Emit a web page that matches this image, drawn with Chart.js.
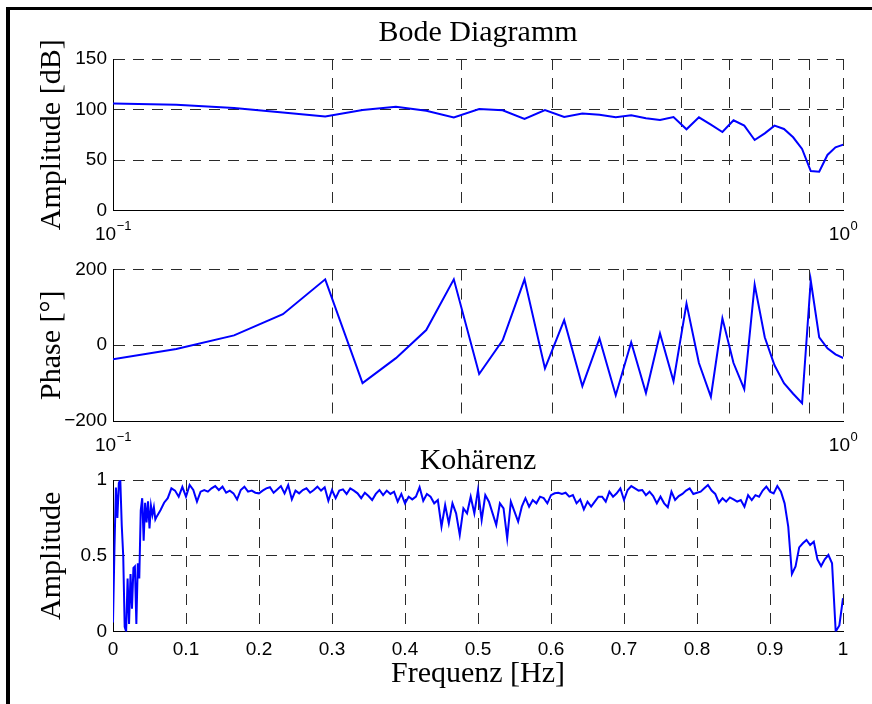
<!DOCTYPE html>
<html lang="de">
<head>
<meta charset="utf-8">
<title>Bode Diagramm / Kohärenz</title>
<script src="https://cdn.jsdelivr.net/npm/chart.js@4.4.1/dist/chart.umd.min.js"></script>
<style>
  html, body { margin: 0; padding: 0; background: #fff; }
  #page { position: relative; width: 872px; height: 704px; overflow: hidden; background: #fff; }
  /* schwarzer Rahmen oben/links wie im Original */
  #frame { position: absolute; left: 6px; top: 7px; width: 900px; height: 800px;
           border-left: 4px solid #000; border-top: 3px solid #000; }
  canvas { position: absolute; left: 0; }
</style>
</head>
<body>
<div id="page">
  <div id="frame"></div>
  <canvas id="ampChart" width="872" height="250" style="top:0px"></canvas>
  <canvas id="phaseChart" width="872" height="220" style="top:240px"></canvas>
  <canvas id="cohChart" width="872" height="264" style="top:440px"></canvas>
</div>
<script>
// ---- Daten ----

// Frequenzstützstellen der Bode-Messung [Hz]
const bodeFreq = [0.0977, 0.1221, 0.1465, 0.1709, 0.1953, 0.2197, 0.2441, 0.2686, 0.2930, 0.3174,
                  0.3418, 0.3662, 0.3906, 0.4150, 0.4395, 0.4639, 0.4883, 0.5127, 0.5371, 0.5615,
                  0.5859, 0.6104, 0.6348, 0.6592, 0.6836, 0.7080, 0.7324, 0.7568, 0.7813, 0.8057,
                  0.8301, 0.8545, 0.8789, 0.9033, 0.9277, 0.9521, 0.9766, 1.0010];

// Amplitude [dB]
const bodeAmpDb = [106, 104.8, 101.5, 97, 93, 99.5, 102.8, 98.8, 92.2, 100.5,
                   99.2, 90.6, 99.5, 92.6, 96, 94.9, 92.3, 94.3, 91.3, 89.6,
                   92.6, 80.4, 92.3, 85, 77.7, 89.3, 84, 69.8, 76.4, 84,
                   80.7, 72.5, 60.9, 39.1, 38.4, 55, 62.6, 65.2];

// Phase [°]
const bodePhaseDeg = [-40, -10, 26, 82, 174, -100, -34, 40, 174, -76,
                      13, 174, -61, 66, -108, 18, -132, 8, -126, 31,
                      -95, 110, -47, -136, 71, -47, -116, 160, 21, -53,
                      -100, -128, -153, 171, 21, -8, -24, -34];

// Kohärenz: 0 ... 0.058 Hz in 0.002-Schritten
const cohLowStart = 0;
const cohLowStep = 0.002;
const cohLow = [0.06, 0.55, 0.95, 0.75, 0.98, 1.0, 0.7, 0.5, 0.03, 0.0,
                0.35, 0.05, 0.38, 0.15, 0.42, 0.43, 0.05, 0.45, 0.35, 0.8,
                0.88, 0.6, 0.85, 0.72, 0.86, 0.68, 0.83, 0.77, 0.82, 0.74];

// Kohärenz: 0.06 ... 1.0 Hz in 0.005-Schritten
const cohMainStart = 0.06;
const cohMainStep = 0.005;
const cohMain = [
  0.76, 0.80, 0.85, 0.88, 0.945, 0.93, 0.89, 0.955, 0.89, 0.967,
  0.934, 0.857, 0.923, 0.934, 0.923, 0.945, 0.96, 0.934, 0.956, 0.916,
  0.93, 0.912, 0.872, 0.934, 0.956, 0.923, 0.93, 0.916, 0.912, 0.93,
  0.945, 0.952, 0.916, 0.938, 0.96, 0.912, 0.967, 0.872, 0.93, 0.912,
  0.934, 0.945, 0.916, 0.934, 0.956, 0.93, 0.952, 0.863, 0.934, 0.88,
  0.93, 0.938, 0.908, 0.945, 0.93, 0.912, 0.88, 0.916, 0.894, 0.868,
  0.908, 0.934, 0.90, 0.93, 0.908, 0.923, 0.857, 0.908, 0.846, 0.89,
  0.872, 0.89, 0.952, 0.863, 0.908, 0.89, 0.846, 0.868, 0.692, 0.835,
  0.714, 0.846, 0.78, 0.637, 0.813, 0.78, 0.89, 0.78, 0.934, 0.736,
  0.90, 0.857, 0.78, 0.703, 0.846, 0.813, 0.615, 0.857, 0.791, 0.725,
  0.824, 0.88, 0.824, 0.868, 0.846, 0.89, 0.88, 0.846, 0.90, 0.912,
  0.916, 0.908, 0.916, 0.89, 0.90, 0.846, 0.872, 0.806, 0.857, 0.824,
  0.857, 0.89, 0.89, 0.857, 0.923, 0.89, 0.912, 0.945, 0.868, 0.934,
  0.96, 0.945, 0.93, 0.934, 0.90, 0.923, 0.894, 0.846, 0.89, 0.846,
  0.82, 0.923, 0.868, 0.894, 0.908, 0.93, 0.945, 0.908, 0.916, 0.923,
  0.945, 0.967, 0.93, 0.908, 0.85, 0.88, 0.857, 0.885, 0.872, 0.857,
  0.868, 0.824, 0.90, 0.868, 0.90, 0.89, 0.93, 0.956, 0.923, 0.912,
  0.96, 0.923, 0.846, 0.692, 0.38, 0.43, 0.555, 0.582, 0.604, 0.571,
  0.593, 0.476, 0.432, 0.476, 0.505, 0.45, 0.0, 0.04, 0.22];

// Achsenteilungen
const logTicks = [0.1, 0.2, 0.3, 0.4, 0.5, 0.6, 0.7, 0.8, 0.9, 1];
const logLabelValues = [0.1, 1];
const logLabelExps = ['\u22121', '0'];
const ampTicks = [0, 50, 100, 150];
const phaseTicks = [-200, 0, 200];
const cohYTicks = [0, 0.5, 1];
const cohXTicks = [0, 0.1, 0.2, 0.3, 0.4, 0.5, 0.6, 0.7, 0.8, 0.9, 1];

// ---- Stil ----
Chart.defaults.font.family = '"Liberation Sans", Arial, sans-serif';
Chart.defaults.font.size = 19;
Chart.defaults.color = '#000';

const SANS = '"Liberation Sans", Arial, sans-serif';
const SERIF = '"Liberation Serif", "Times New Roman", serif';
const SERIF_SIZE = 30;
const GRID_COLOR = '#2a2a2a';
const GRID_DASH = [11, 8];
const LINE_BLUE = '#0000ff';

// Überschrift mittig über der Plotfläche
const plotTitle = {
  id: 'plotTitle',
  afterDraw(chart, args, opts) {
    if (!opts.text) return;
    const { ctx, chartArea } = chart;
    ctx.save();
    ctx.font = SERIF_SIZE + 'px ' + SERIF;
    ctx.fillStyle = '#000';
    ctx.textAlign = 'center';
    ctx.textBaseline = 'alphabetic';
    ctx.fillText(opts.text, (chartArea.left + chartArea.right) / 2, chartArea.top - opts.offset);
    ctx.restore();
  }
};

// Dekaden-Beschriftung 10^-1 / 10^0 mit hochgestelltem Exponenten
const decadeLabels = {
  id: 'decadeLabels',
  afterDraw(chart, args, opts) {
    if (!opts.show) return;
    const { ctx, chartArea } = chart;
    const xs = chart.scales.x;
    const base = chartArea.bottom + 29.5;
    ctx.save();
    ctx.fillStyle = '#000';
    ctx.textBaseline = 'alphabetic';
    ctx.textAlign = 'left';
    logLabelValues.forEach((v, i) => {
      ctx.font = '19px ' + SANS;
      const wBase = ctx.measureText('10').width;
      ctx.font = '13px ' + SANS;
      const wExp = ctx.measureText(logLabelExps[i]).width;
      const left = xs.getPixelForValue(v) - (wBase + wExp) / 2;
      ctx.font = '19px ' + SANS;
      ctx.fillText('10', left, base);
      ctx.font = '13px ' + SANS;
      ctx.fillText(logLabelExps[i], left + wBase + 0.5, base - 10);
    });
    ctx.restore();
  }
};

function fixedTicks(values) {
  return scale => { scale.ticks = values.map(v => ({ value: v })); };
}

const fmtNum = v => (v < 0 ? '\u2212' + Math.abs(v) : String(v));
const fmtNone = () => '';

function yAxis(min, max, ticks, title) {
  return {
    min: min,
    max: max,
    afterBuildTicks: fixedTicks(ticks),
    afterFit: s => { s.width = 113; },
    grid: { color: GRID_COLOR, lineWidth: 1, drawTicks: false },
    border: { display: true, color: '#000', width: 1, dash: GRID_DASH },
    ticks: { padding: 6, callback: fmtNum },
    title: { display: true, text: title, font: { family: SERIF, size: SERIF_SIZE }, padding: { top: 34, bottom: 0 } }
  };
}

function xAxis(type, min, max, ticks, height, padding, callback, title) {
  const axis = {
    type: type,
    min: min,
    max: max,
    afterBuildTicks: fixedTicks(ticks),
    afterFit: s => { s.height = height; },
    grid: { color: GRID_COLOR, lineWidth: 1, drawTicks: false },
    border: { display: true, color: '#000', width: 1, dash: GRID_DASH },
    ticks: { padding: padding, autoSkip: false, maxRotation: 0, callback: callback }
  };
  if (title) {
    axis.title = { display: true, text: title, font: { family: SERIF, size: SERIF_SIZE }, padding: { top: 0, bottom: 0 } };
  }
  return axis;
}

function lineSet(points) {
  return {
    data: points,
    borderColor: LINE_BLUE,
    borderWidth: 2,
    pointRadius: 0,
    fill: false,
    tension: 0
  };
}

function baseOptions(padTop, padBottom, scales, titleOpts, decades) {
  return {
    responsive: false,
    animation: false,
    events: [],
    layout: { padding: { left: 0, right: 29, top: padTop, bottom: padBottom } },
    plugins: {
      legend: { display: false },
      tooltip: { enabled: false },
      plotTitle: titleOpts || {},
      decadeLabels: { show: !!decades }
    },
    scales: scales
  };
}

// ---- 1. Amplitude ----
const ampPoints = bodeFreq.map((f, i) => ({ x: f, y: bodeAmpDb[i] }));
new Chart(document.getElementById('ampChart'), {
  type: 'line',
  data: { datasets: [lineSet(ampPoints)] },
  options: baseOptions(59, 0, {
    x: xAxis('logarithmic', 0.1, 1, logTicks, 39.5, 11, fmtNone),
    y: yAxis(0, 150, ampTicks, 'Amplitude [dB]')
  }, { text: 'Bode Diagramm', offset: 18 }, true),
  plugins: [plotTitle, decadeLabels]
});

// ---- 2. Phase ----
const phasePoints = bodeFreq.map((f, i) => ({ x: f, y: bodePhaseDeg[i] }));
new Chart(document.getElementById('phaseChart'), {
  type: 'line',
  data: { datasets: [lineSet(phasePoints)] },
  options: baseOptions(29.5, 0, {
    x: xAxis('logarithmic', 0.1, 1, logTicks, 39, 11, fmtNone),
    y: yAxis(-200, 200, phaseTicks, 'Phase [\u00B0]')
  }, null, true),
  plugins: [plotTitle, decadeLabels]
});

// ---- 3. Kohärenz ----
const cohPoints = [];
cohLow.forEach((c, i) => cohPoints.push({ x: cohLowStart + i * cohLowStep, y: c }));
cohMain.forEach((c, i) => cohPoints.push({ x: cohMainStart + i * cohMainStep, y: c }));

new Chart(document.getElementById('cohChart'), {
  type: 'line',
  data: { datasets: [lineSet(cohPoints)] },
  options: baseOptions(40, 11.6, {
    x: xAxis('linear', 0, 1, cohXTicks, 60.9, 7, fmtNum, 'Frequenz [Hz]'),
    y: yAxis(0, 1, cohYTicks, 'Amplitude')
  }, { text: 'Koh\u00E4renz', offset: 11 }, false),
  plugins: [plotTitle, decadeLabels]
});
</script>
</body>
</html>
